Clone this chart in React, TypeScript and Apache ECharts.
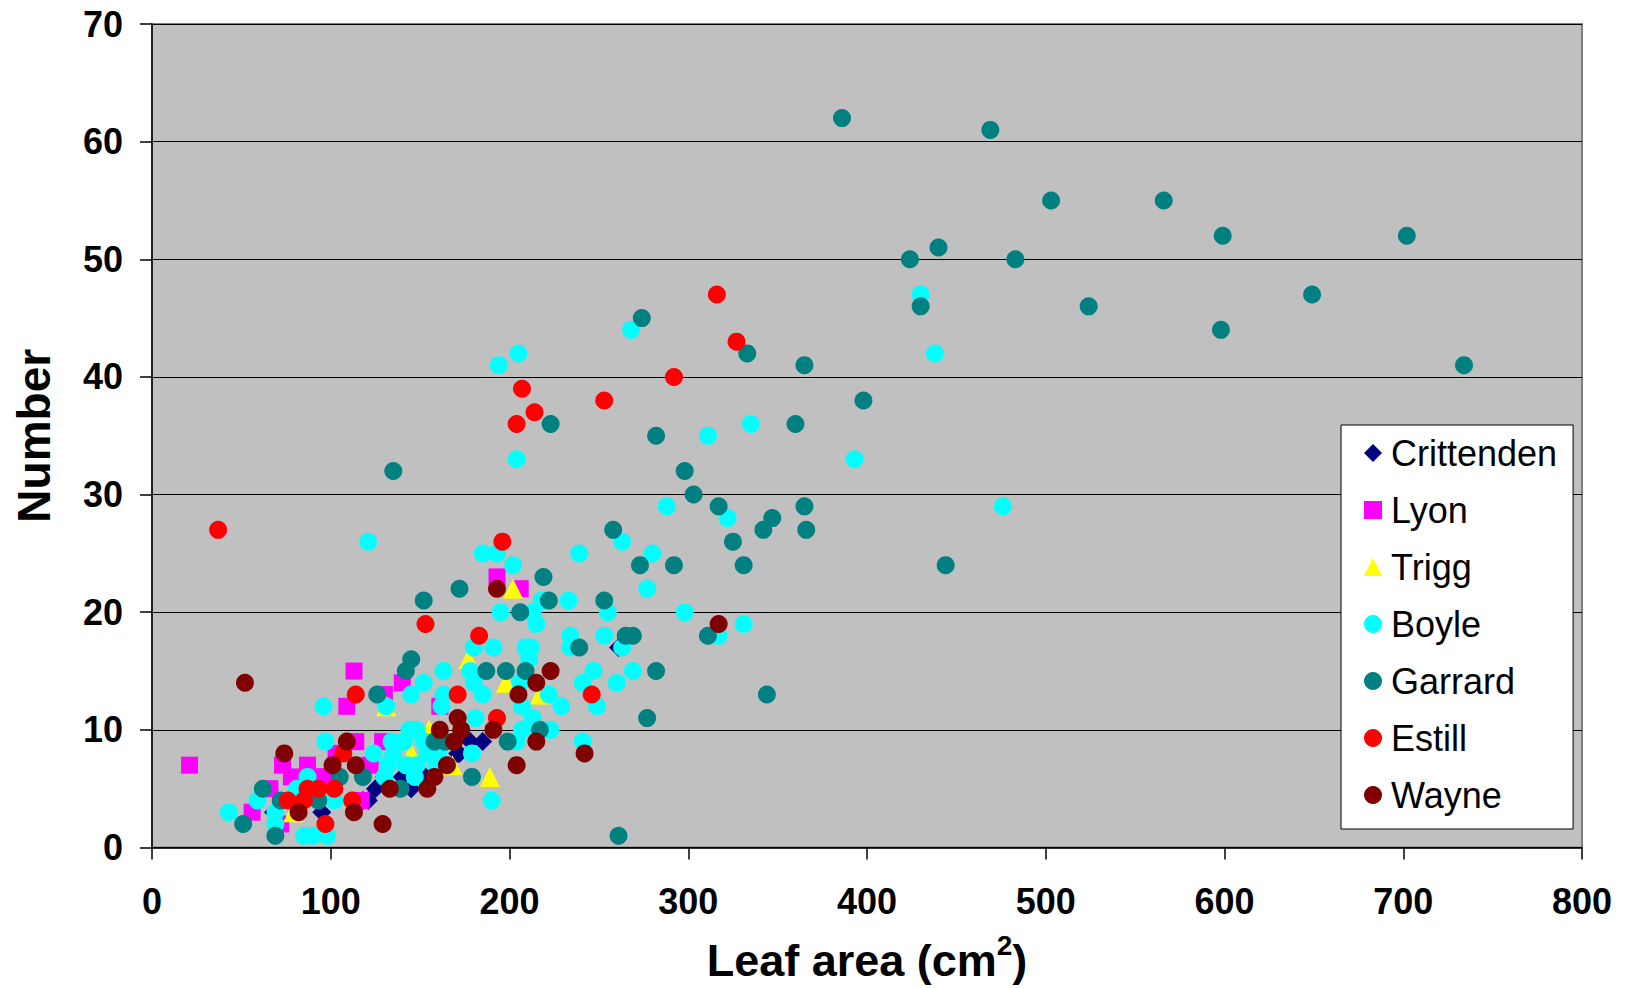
import React, { useEffect, useRef } from "react";
import * as echarts from "echarts";

const seriesNames = ["Crittenden", "Lyon", "Trigg", "Boyle", "Garrard", "Estill", "Wayne"];
const seriesColors = ["#000080", "#FF00FF", "#FFFF00", "#00FFFF", "#008080", "#FF0000", "#800000"];
const seriesSymbols = ["diamond", "rect", "triangle", "circle", "circle", "circle", "circle"];
const seriesSizes = [19, 17, 20, 18, 18, 18, 18];

const crittenden = [[68,3],[95,3],[118,4],[121,4],[125,5],[130,6],[140,6],[145,5],[153,6],[171,8],[172,8],[178,9],[185,9],[261,17]];
const lyon = [[21,7],[56,3],[66,5],[72,2],[73,7],[78,6],[87,7],[93,6],[97,6],[103,8],[109,12],[113,15],[114,9],[117,4],[122,7],[129,9],[130,13],[140,14],[161,12],[193,23],[206,22]];
const trigg = [[79,3],[131,12],[145,8],[155,10],[168,7],[177,16],[189,6],[198,14],[202,22],[217,13]];
const boyle = [[43,3],[59,4],[69,3],[69,2],[81,5],[85,1],[87,6],[90,1],[97,9],[96,12],[98,1],[102,4],[121,26],[124,8],[130,6],[131,12],[132,7],[134,9],[135,8],[141,9],[142,7],[143,7],[144,10],[145,13],[147,6],[148,10],[148,7],[152,9],[152,14],[154,8],[159,7],[160,8],[162,12],[163,13],[163,15],[178,15],[179,8],[180,14],[180,17],[181,11],[185,13],[185,25],[190,4],[191,17],[193,11],[193,25],[194,41],[195,20],[202,24],[204,9],[204,33],[205,42],[206,14],[207,10],[207,12],[209,17],[211,16],[212,17],[213,11],[213,20],[215,19],[218,21],[222,13],[223,10],[229,12],[233,21],[234,17],[234,18],[239,25],[241,9],[241,14],[247,15],[249,12],[253,18],[255,20],[260,14],[263,17],[263,26],[268,44],[269,15],[277,22],[280,25],[288,29],[298,20],[311,35],[317,18],[322,28],[331,19],[335,36],[393,33],[430,47],[438,42],[476,29]];
const garrard = [[51,2],[62,5],[69,1],[72,4],[93,4],[105,6],[118,6],[126,13],[135,32],[139,5],[142,15],[145,16],[152,21],[158,9],[164,9],[172,22],[179,6],[187,15],[198,15],[199,9],[206,20],[209,15],[217,10],[219,23],[222,21],[223,36],[239,17],[253,21],[258,27],[261,1],[265,18],[269,18],[273,24],[274,45],[277,11],[282,15],[282,35],[292,24],[298,32],[303,30],[311,18],[317,29],[325,26],[331,24],[333,42],[342,27],[344,13],[347,28],[360,36],[365,29],[365,41],[366,27],[386,62],[398,38],[424,50],[430,46],[440,51],[444,24],[469,61],[483,50],[503,55],[524,46],[566,55],[598,44],[599,52],[649,47],[702,52],[734,41]];
const estill = [[37,27],[76,4],[85,4],[87,5],[93,5],[97,2],[102,5],[107,8],[112,4],[114,13],[153,19],[171,13],[183,18],[193,11],[196,26],[204,36],[207,39],[214,37],[246,13],[253,38],[292,40],[316,47],[327,43]];
const wayne = [[52,14],[74,8],[82,3],[101,7],[109,9],[113,3],[114,7],[129,2],[133,5],[154,5],[158,6],[161,10],[165,7],[169,9],[171,11],[173,10],[191,10],[193,22],[204,7],[205,13],[215,9],[215,14],[223,15],[242,8],[317,19]];

const allData = [crittenden, lyon, trigg, boyle, garrard, estill, wayne];

const xTicks = { min: 0, max: 800, interval: 100 };
const yTicks = { min: 0, max: 70, interval: 10 };

const FONT = "'Liberation Sans', Arial, Helvetica, sans-serif";

export default function App() {
  const ref = useRef<HTMLDivElement>(null);
  useEffect(() => {
    if (!ref.current) return;
    const chart = echarts.init(ref.current, null, { renderer: "svg" });
    chart.setOption({
      animation: false,
      backgroundColor: "#FFFFFF",
      textStyle: { fontFamily: FONT },
      grid: {
        left: 152,
        top: 24,
        right: 50,
        bottom: 138,
        show: true,
        backgroundColor: "#C0C0C0",
        borderColor: "#808080",
        borderWidth: 2,
      },
      legend: {
        orient: "vertical",
        left: 1341,
        top: 425,
        padding: [8, 16, 14, 23],
        itemGap: 17,
        itemWidth: 18,
        itemHeight: 18,
        backgroundColor: "#FFFFFF",
        borderColor: "#000000",
        borderWidth: 1,
        borderRadius: 0,
        data: seriesNames,
        textStyle: { fontSize: 36, color: "#000", fontFamily: FONT, lineHeight: 40, padding: [0, 0, 0, 4] },
      },
      xAxis: {
        type: "value",
        min: xTicks.min,
        max: xTicks.max,
        interval: xTicks.interval,
        name: "Leaf area (cm{sup|2})",
        nameLocation: "middle",
        nameGap: 84,
        nameTextStyle: {
          fontSize: 45,
          fontWeight: "bold",
          color: "#000",
          fontFamily: FONT,
          rich: {
            sup: { fontSize: 28, fontWeight: "bold", color: "#000", fontFamily: FONT, padding: [0, 0, 30, 0] },
          },
        },
        axisLine: { show: true, onZero: false, lineStyle: { color: "#000", width: 1.5 } },
        axisTick: { show: true, inside: false, length: 12, lineStyle: { color: "#000", width: 1.5 } },
        axisLabel: { fontSize: 36, fontWeight: "bold", color: "#000", margin: 36, fontFamily: FONT },
        splitLine: { show: false },
      },
      yAxis: {
        type: "value",
        min: yTicks.min,
        max: yTicks.max,
        interval: yTicks.interval,
        name: "Number",
        nameLocation: "middle",
        nameGap: 95,
        nameRotate: 90,
        nameTextStyle: { fontSize: 46, fontWeight: "bold", color: "#000", fontFamily: FONT },
        axisLine: { show: true, onZero: false, lineStyle: { color: "#000", width: 1.5 } },
        axisTick: { show: true, inside: false, length: 12, lineStyle: { color: "#000", width: 1.5 } },
        axisLabel: { fontSize: 36, fontWeight: "bold", color: "#000", margin: 29, fontFamily: FONT },
        splitLine: { show: true, lineStyle: { color: "#000", width: 1.2 } },
      },
      series: seriesNames.map((name, i) => ({
        name,
        type: "scatter",
        symbol: seriesSymbols[i],
        symbolSize: seriesSizes[i],
        data: allData[i],
        itemStyle: { color: seriesColors[i], opacity: 1 },
        emphasis: { disabled: true },
      })),
    });
    return () => chart.dispose();
  }, []);
  return (
    <div
      ref={ref}
      style={{ position: "absolute", left: 0, top: 0, width: 1632, height: 988 }}
    />
  );
}
